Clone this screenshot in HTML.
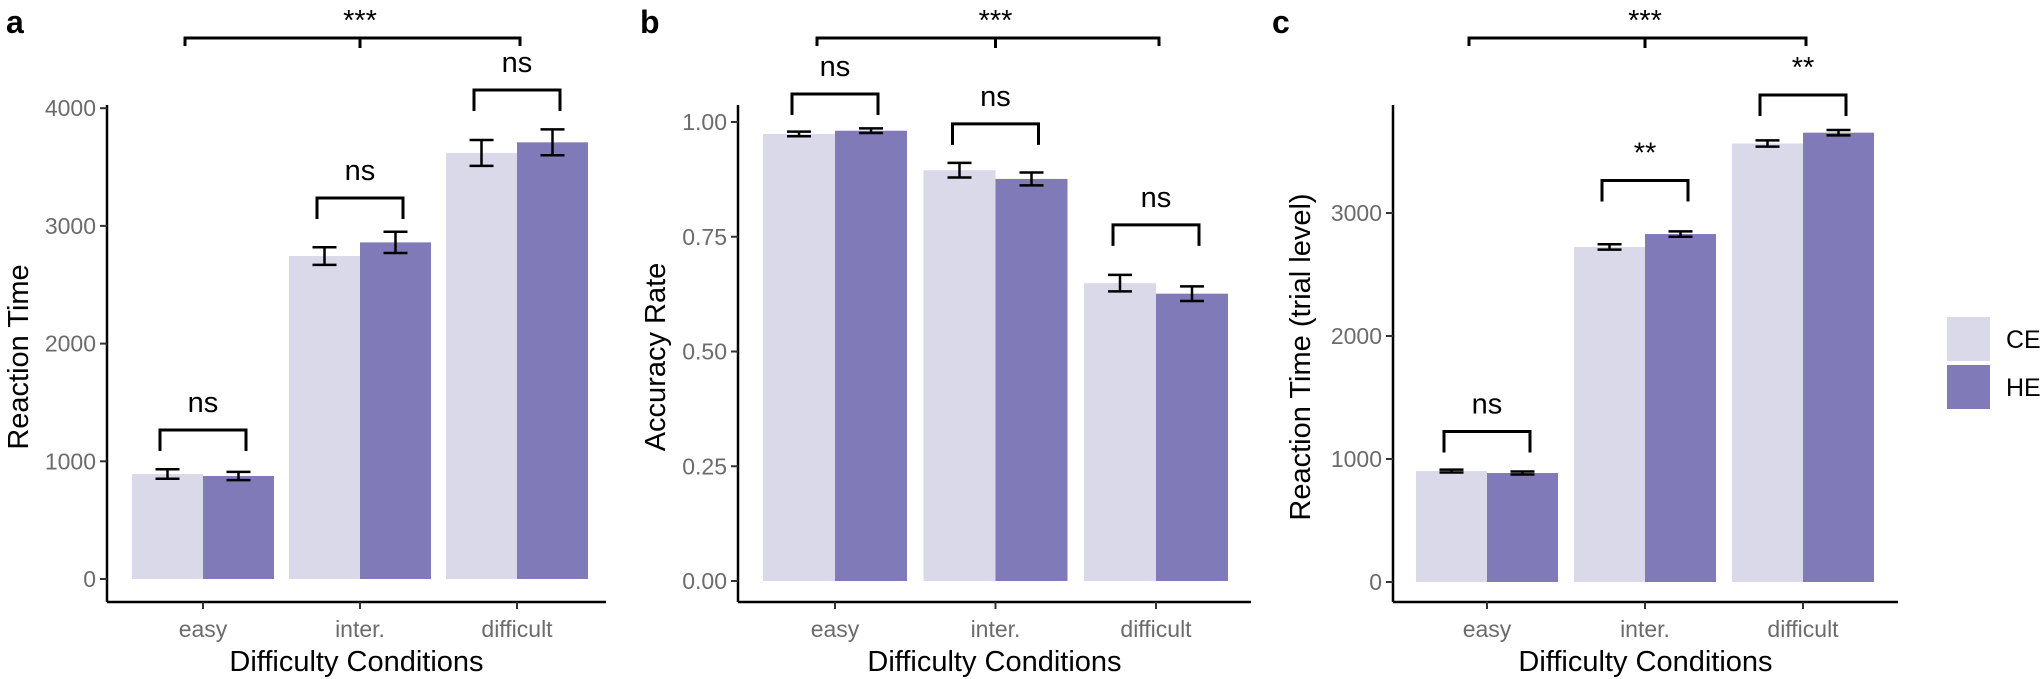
<!DOCTYPE html>
<html><head><meta charset="utf-8"><style>
html,body{margin:0;padding:0;background:#fff;}
svg{display:block;font-family:"Liberation Sans",sans-serif;}
</style></head><body>
<svg id="chart" width="2043" height="679" viewBox="0 0 2043 679"></svg>
<script>
const categories = ["easy","inter.","difficult"];
const groups = ["CE","HE"];
// Panel a: Reaction Time
const aCE = [892, 2744, 3620];
const aHE = [875, 2860, 3710];
const aCEerr = [40, 75, 110];
const aHEerr = [35, 90, 110];
const aTicks = [0, 1000, 2000, 3000, 4000];
const aTickLabels = ["0","1000","2000","3000","4000"];
const aSig = ["ns","ns","ns"];
const aSigLevel = [1266, 3237, 4155];
// Panel b: Accuracy
const bCE = [0.974, 0.895, 0.649];
const bHE = [0.981, 0.876, 0.626];
const bCEerr = [0.005, 0.016, 0.018];
const bHEerr = [0.005, 0.014, 0.016];
const bTicks = [0, 0.25, 0.5, 0.75, 1];
const bTickLabels = ["0.00","0.25","0.50","0.75","1.00"];
const bSig = ["ns","ns","ns"];
const bSigLevel = [1.061, 0.996, 0.776];
// Panel c: Reaction time trial level
const cCE = [902, 2724, 3565];
const cHE = [886, 2829, 3653];
const cCEerr = [12, 22, 25];
const cHEerr = [12, 22, 22];
const cTicks = [0, 1000, 2000, 3000];
const cTickLabels = ["0","1000","2000","3000"];
const cSig = ["ns","**","**"];
const cSigLevel = [1224, 3264, 3959];

const NS = "http://www.w3.org/2000/svg";
const svg = document.getElementById("chart");
const COL = ["#dad9ea", "#807bb8"];
function mk(tag, attrs, parent, text){
  const e = document.createElementNS(NS, tag);
  for (const k in attrs) e.setAttribute(k, attrs[k]);
  if (text !== undefined) e.textContent = text;
  (parent || svg).appendChild(e);
  return e;
}

function panel(p){
  const g = mk("g", {});
  
  
  const y = v => p.y0 - (v / p.unit) * p.ppu;
  const x = i => p.x0cat + i * p.step;
  const bw = p.bw;
  const lab = mk("text", {x: p.labX, y: 33, "font-size": 32, "font-weight": "bold", fill: "#000"}, g, p.letter);
  
  
  for (let i = 0; i < categories.length; i++){
    const vals = [p.ce[i], p.he[i]];
    const errs = [p.ceErr[i], p.heErr[i]];
    for (let s = 0; s < 2; s++){
      const bx = x(i) - bw + s * bw;
      const r = mk("rect", {x: bx, y: y(vals[s]), width: bw, height: p.y0 - y(vals[s]), fill: COL[s]}, g);
      
      
      const cx = bx + bw / 2;
      const eg = mk("g", {stroke: "#000", "stroke-width": 2.5}, g);
      
      
      const yt = y(vals[s] + errs[s]), yb = y(vals[s] - errs[s]);
      mk("line", {x1: cx, x2: cx, y1: yt, y2: yb}, eg);
      mk("line", {x1: cx - 12, x2: cx + 12, y1: yt, y2: yt}, eg);
      mk("line", {x1: cx - 12, x2: cx + 12, y1: yb, y2: yb}, eg);
    }
    const by = y(p.sigLevel[i]);
    const bg = mk("g", {}, g);
    
    
    mk("path", {d: `M${x(i)-43},${by+21} L${x(i)-43},${by} L${x(i)+43},${by} L${x(i)+43},${by+21}`, fill: "none", stroke: "#000", "stroke-width": 3}, bg);
    mk("text", {x: x(i), y: by - 18, "font-size": 29, "text-anchor": "middle", fill: "#000"}, bg, p.sig[i]);
  }
  const tg = mk("g", {}, g);
  
  
  const l = x(0) - 18, rr = x(2) + 3, m = x(1);
  mk("path", {d: `M${l},46 L${l},38 L${rr},38 L${rr},46 M${m},38 L${m},48`, fill: "none", stroke: "#000", "stroke-width": 3}, tg);
  mk("text", {x: m, y: 30, "font-size": 29, "text-anchor": "middle", fill: "#000"}, tg, "***");
  const ya = mk("g", {}, g);
  
  
  mk("line", {x1: p.ax, x2: p.ax, y1: 105, y2: 602, stroke: "#000", "stroke-width": 2.5}, ya);
  p.ticks.forEach((t, k) => {
    mk("line", {x1: p.ax - 7, x2: p.ax, y1: y(t), y2: y(t), stroke: "#333", "stroke-width": 2}, ya);
    mk("text", {x: p.ax - 11, y: y(t) + 8, "font-size": 23, "text-anchor": "end", fill: "#6b6b6b"}, ya, p.tickLabels[k]);
  });
  const xa = mk("g", {}, g);
  
  
  mk("line", {x1: p.ax, x2: p.axEnd, y1: 602, y2: 602, stroke: "#000", "stroke-width": 2.5}, xa);
  categories.forEach((c, i) => {
    mk("line", {x1: x(i), x2: x(i), y1: 602, y2: 609, stroke: "#333", "stroke-width": 2}, xa);
    mk("text", {x: x(i), y: 637, "font-size": 23, "text-anchor": "middle", fill: "#6b6b6b"}, xa, c);
  });
  const xt = mk("text", {x: (p.ax + p.axEnd) / 2, y: 671, "font-size": 29, "text-anchor": "middle", fill: "#000"}, g, "Difficulty Conditions");
  
  
  const yt = mk("text", {x: 0, y: 0, "font-size": 29, "text-anchor": "middle", fill: "#000", transform: `translate(${p.titleX},357) rotate(-90)`}, g, p.yTitle);
  
  
}

panel({name: "panel-a", letter: "a", labX: 6, ce: aCE, he: aHE, ceErr: aCEerr, heErr: aHEerr, ticks: aTicks, tickLabels: aTickLabels, sig: aSig, sigLevel: aSigLevel,
  y0: 579, unit: 1000, ppu: 117.7, x0cat: 203, step: 157, bw: 71, ax: 107, axEnd: 606, titleX: 28, yTitle: "Reaction Time"});
panel({name: "panel-b", letter: "b", labX: 640, ce: bCE, he: bHE, ceErr: bCEerr, heErr: bHEerr, ticks: bTicks, tickLabels: bTickLabels, sig: bSig, sigLevel: bSigLevel,
  y0: 581, unit: 1, ppu: 459, x0cat: 835, step: 160.5, bw: 72, ax: 738, axEnd: 1251, titleX: 665, yTitle: "Accuracy Rate"});
panel({name: "panel-c", letter: "c", labX: 1272, ce: cCE, he: cHE, ceErr: cCEerr, heErr: cHEerr, ticks: cTicks, tickLabels: cTickLabels, sig: cSig, sigLevel: cSigLevel,
  y0: 582, unit: 1000, ppu: 123, x0cat: 1487, step: 158, bw: 71, ax: 1393, axEnd: 1898, titleX: 1310, yTitle: "Reaction Time (trial level)"});

const lg = mk("g", {});


groups.forEach((gname, s) => {
  const e = mk("g", {}, lg);
  
  
  mk("rect", {x: 1947, y: 317 + s * 48, width: 43, height: 44, fill: COL[s]}, e);
  mk("text", {x: 2006, y: 348 + s * 48, "font-size": 25, fill: "#000"}, e, gname);
});
</script>
</body></html>
